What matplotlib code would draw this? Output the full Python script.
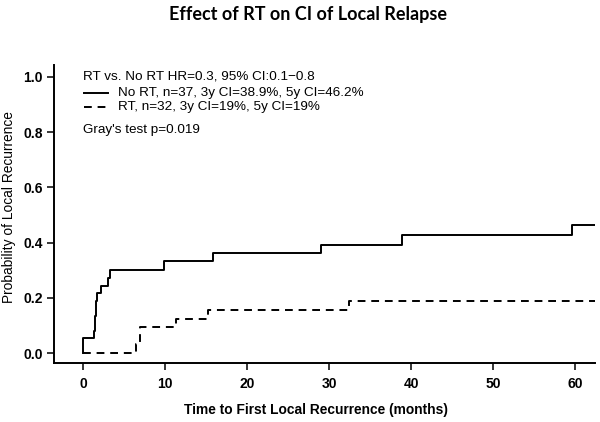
import matplotlib.pyplot as plt

# cumulative incidence
no_rt_t = [0, 0.05, 1.3, 1.45, 1.6, 1.75, 2.2, 3.0, 3.25, 9.9, 15.9, 29.0, 38.9, 59.6, 62.4]
no_rt_ci = [0, 0.054, 0.081, 0.135, 0.189, 0.216, 0.243, 0.270, 0.302, 0.332, 0.361, 0.392, 0.428, 0.463, 0.463]

rt_t = [0, 6.5, 7.0, 11.3, 15.3, 32.4, 62.4]
rt_ci = [0, 0.031, 0.094, 0.125, 0.156, 0.190, 0.190]

xticks = [0, 10, 20, 30, 40, 50, 60]
yticks = [0.0, 0.2, 0.4, 0.6, 0.8, 1.0]

legend_lines = [
    'RT vs. No RT HR=0.3, 95% CI:0.1\u22120.8',
    'No RT, n=37, 3y CI=38.9%, 5y CI=46.2%',
    'RT, n=32, 3y CI=19%, 5y CI=19%',
    "Gray's test p=0.019",
]

plt.rcParams['font.family'] = ['Liberation Sans', 'DejaVu Sans']

fig = plt.figure(figsize=(6, 4.22), dpi=100)
ax = fig.add_axes([0.09, 0.1398, 0.9017, 0.7062])

ax.step(no_rt_t, no_rt_ci, where='post', color='black', lw=1.4)
ax.step(rt_t, rt_ci, where='post', color='black', lw=1.4, dashes=(4, 3))

ax.set_xlim(-3.54, 62.44)
ax.set_ylim(-0.036, 1.043)

for s in ['top', 'right']:
    ax.spines[s].set_visible(False)
for s in ['left', 'bottom']:
    ax.spines[s].set_linewidth(1.4)

ax.set_xticks(xticks)
ax.set_yticks(yticks)
ax.set_yticklabels(['%.1f' % v for v in yticks])
ax.tick_params(direction='out', length=5, width=1.1, labelsize=10, pad=3)
ax.tick_params(axis='x', pad=5)
for lab in ax.get_xticklabels() + ax.get_yticklabels():
    lab.set_fontweight('bold')

ax.set_xlabel('Time to First Local Recurrence (months)', fontsize=9.9, fontweight='bold')
ax.xaxis.set_label_coords(0.484, -0.158)
ax.xaxis.label.set_va('center')
ax.set_ylabel('Probability of Local Recurrence', fontsize=9.9)
ax.yaxis.set_label_coords(-0.084, 0.523)
ax.yaxis.label.set_va('center')

# legend block, drawn by hand like R's legend()
tr = ax.transAxes
fs = 9.7
ax.text(0.0536, 0.963, legend_lines[0], transform=tr, fontsize=fs, va='center')
ax.plot([0.0555, 0.0998], [0.906, 0.906], transform=tr, color='black', lw=1.4)
ax.text(0.118, 0.906, legend_lines[1], transform=tr, fontsize=fs, va='center')
ax.plot([0.0555, 0.0998], [0.859, 0.859], transform=tr, color='black', lw=1.4, dashes=(4, 3))
ax.text(0.118, 0.859, legend_lines[2], transform=tr, fontsize=fs, va='center')
ax.text(0.0536, 0.782, legend_lines[3], transform=tr, fontsize=fs, va='center')

fig.text(0.513, 0.966, 'Effect of RT on CI of Local Relapse', ha='center', va='center',
         fontsize=13, fontweight='bold', family=['Lato', 'DejaVu Sans'])

fig.savefig('out.png', dpi=100)
